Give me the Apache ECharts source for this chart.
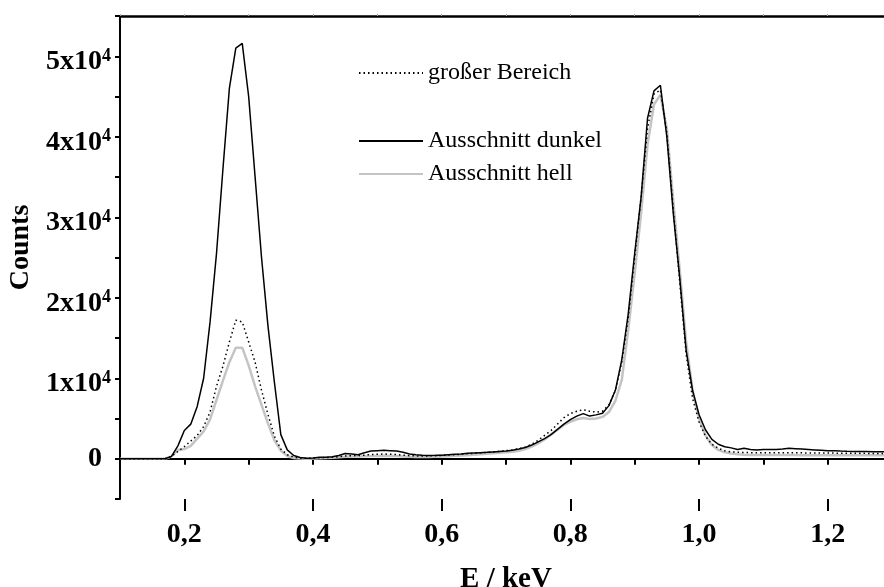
<!DOCTYPE html>
<html>
<head>
<meta charset="utf-8">
<script src="https://cdn.jsdelivr.net/npm/echarts@6/dist/echarts.min.js"></script>
<style>
  html, body { margin: 0; padding: 0; background: #fff; }
  #main { width: 884px; height: 587px; }
</style>
</head>
<body>
<div id="main"></div>
<script>
// Energie in keV
var energie = [
  0.10, 0.11, 0.12, 0.13, 0.14, 0.15, 0.16, 0.17, 0.18, 0.19,
  0.20, 0.21, 0.22, 0.23, 0.24, 0.25, 0.26, 0.27, 0.28, 0.29,
  0.30, 0.31, 0.32, 0.33, 0.34, 0.35, 0.36, 0.37, 0.38, 0.39,
  0.40, 0.41, 0.42, 0.43, 0.44, 0.45, 0.46, 0.47, 0.48, 0.49,
  0.50, 0.51, 0.52, 0.53, 0.54, 0.55, 0.56, 0.57, 0.58, 0.59,
  0.60, 0.61, 0.62, 0.63, 0.64, 0.65, 0.66, 0.67, 0.68, 0.69,
  0.70, 0.71, 0.72, 0.73, 0.74, 0.75, 0.76, 0.77, 0.78, 0.79,
  0.80, 0.81, 0.82, 0.83, 0.84, 0.85, 0.86, 0.87, 0.88, 0.89,
  0.90, 0.91, 0.92, 0.93, 0.94, 0.95, 0.96, 0.97, 0.98, 0.99,
  1.00, 1.01, 1.02, 1.03, 1.04, 1.05, 1.06, 1.07, 1.08, 1.09,
  1.10, 1.11, 1.12, 1.13, 1.14, 1.15, 1.16, 1.17, 1.18, 1.19,
  1.20, 1.21, 1.22, 1.23, 1.24, 1.25, 1.26, 1.27, 1.28, 1.29,
  1.30
];

// großer Bereich (gepunktet)
var grosserBereich = [
  0, 0, 0, 0, 0, 0, 0, 0, 300, 900,
  1500, 2200, 2900, 4000, 5800, 9000, 11500, 14500, 17200, 17000,
  14500, 12000, 8500, 5500, 2800, 1200, 500, 200, 80, 50,
  80, 120, 150, 180, 250, 350, 380, 400, 450, 520,
  560, 580, 560, 520, 450, 380, 350, 340, 350, 380,
  420, 460, 500, 560, 620, 680, 740, 800, 860, 920,
  1000, 1100, 1250, 1450, 1800, 2300, 2900, 3500, 4300, 5100,
  5600, 5900, 6100, 5900, 5800, 5900, 6700, 8500, 12000, 17500,
  25000, 32500, 41000, 45300, 45800, 40500, 31000, 22000, 13000, 7500,
  4600, 2800, 1800, 1300, 1000, 850, 800, 780, 760, 750,
  750, 740, 740, 740, 740, 740, 730, 720, 720, 710,
  700, 700, 690, 680, 680, 670, 670, 660, 660, 650,
  650
];

// Ausschnitt dunkel
var ausschnittDunkel = [
  0, 0, 0, 0, 0, 0, 0, 0, 300, 1600,
  3500, 4300, 6500, 10000, 17000, 25500, 36000, 46000, 51000, 51600,
  45000, 35000, 25000, 16500, 9500, 3000, 1100, 400, 150, 50,
  100, 200, 200, 250, 400, 650, 600, 500, 750, 950,
  1000, 1050, 1000, 950, 800, 600, 500, 420, 400, 420,
  450, 500, 550, 600, 680, 720, 760, 800, 850, 900,
  950, 1050, 1200, 1400, 1700, 2100, 2500, 3000, 3650, 4300,
  4850, 5300, 5600, 5300, 5450, 5650, 6600, 8500, 12300, 18000,
  25500, 32500, 42300, 45700, 46400, 40000, 30500, 22500, 13500, 8500,
  5500, 3600, 2400, 1800, 1500, 1350, 1150, 1300, 1150, 1100,
  1150, 1150, 1150, 1200, 1300, 1250, 1200, 1150, 1100, 1050,
  1000, 1000, 950, 920, 900, 900, 900, 880, 880, 880,
  880
];

// Ausschnitt hell
var ausschnittHell = [
  0, 0, 0, 0, 0, 0, 0, 0, 300, 1100,
  1200, 1600, 2500, 3400, 4900, 7300, 9700, 12000, 13800, 13800,
  11600, 9000, 6700, 4400, 2300, 1000, 350, 100, 20, 0,
  20, 60, 100, 130, 180, 250, 270, 280, 300, 330,
  350, 360, 350, 330, 290, 240, 220, 210, 220, 250,
  280, 320, 360, 400, 450, 500, 560, 620, 680, 740,
  800, 880, 1000, 1200, 1500, 1900, 2400, 3000, 3600, 4200,
  4600, 4900, 5050, 4950, 5000, 5200, 5800, 7200, 9800, 16000,
  23000, 30500, 39000, 44000, 45200, 41000, 32000, 23500, 14500, 8500,
  5000, 2900, 1700, 1100, 800, 650, 550, 500, 480, 470,
  460, 460, 460, 460, 460, 460, 450, 450, 450, 450,
  450, 450, 450, 450, 440, 440, 440, 440, 440, 440,
  440
];

var langeTicks = [0.2, 0.4, 0.6, 0.8, 1.0, 1.2];

function paare(werte) {
  return energie.map(function (e, i) { return [e, werte[i]]; });
}

var chart = echarts.init(document.getElementById('main'));
var serif = '"Liberation Serif", "Times New Roman", serif';

var legendText = { fontFamily: serif, fontSize: 24, color: '#000' };

var option = {
  backgroundColor: '#fff',
  animation: false,
  grid: { left: 120, right: -8, top: 16, bottom: 88, containLabel: false, outerBoundsMode: 'none' },
  legend: [
    {
      left: 353, top: 56, orient: 'vertical',
      itemWidth: 64, itemHeight: 24, itemGap: 10,
      itemStyle: { opacity: 0 },
      data: ['großer Bereich'],
      textStyle: legendText
    },
    {
      left: 353, top: 124, orient: 'vertical',
      itemWidth: 64, itemHeight: 24, itemGap: 9,
      itemStyle: { opacity: 0 },
      data: ['Ausschnitt dunkel', 'Ausschnitt hell'],
      textStyle: legendText
    }
  ],
  xAxis: [
    {
      type: 'value', position: 'bottom',
      min: 0.1, max: 1.3, interval: 0.1,
      name: 'E / keV', nameLocation: 'middle', nameGap: 66,
      nameTextStyle: { fontFamily: serif, fontSize: 29, fontWeight: 'bold', color: '#000' },
      axisLine: { lineStyle: { color: '#000', width: 2 } },
      axisTick: { length: 6, lineStyle: { color: '#000', width: 2 } },
      splitLine: { show: false },
      axisLabel: {
        margin: 22,
        fontFamily: serif, fontSize: 28, fontWeight: 'bold', color: '#000',
        formatter: function (v) {
          var z = Math.round(v * 10);
          if (z % 2 !== 0) return '';
          return (z / 10).toFixed(1).replace('.', ',');
        }
      }
    },
    {
      type: 'value', position: 'bottom',
      min: 0.1, max: 1.3, interval: 0.1,
      axisLine: { show: false },
      axisTick: { length: 12, customValues: langeTicks, lineStyle: { color: '#000', width: 2 } },
      axisLabel: { show: false },
      splitLine: { show: false }
    },
    {
      type: 'value', position: 'top',
      min: 0.1, max: 1.3, interval: 0.1,
      axisLine: { lineStyle: { color: '#000', width: 2.5 } },
      axisTick: { length: 2, lineStyle: { color: '#aaa', width: 1 } },
      axisLabel: { show: false },
      splitLine: { show: false }
    }
  ],
  yAxis: {
    type: 'value',
    min: -5000, max: 55000, interval: 5000,
    name: 'Counts', nameLocation: 'middle', nameGap: 82,
    nameTextStyle: { fontFamily: serif, fontSize: 28, fontWeight: 'bold', color: '#000', padding: [0, 0, 0, 20] },
    axisLine: { show: true, lineStyle: { color: '#000', width: 2 } },
    axisTick: { show: true, length: 5, lineStyle: { color: '#000', width: 2 } },
    splitLine: { show: false },
    axisLabel: {
      margin: 9,
      formatter: function (v) {
        if (v === 0) return '{z|0}{p|4}';
        if (v % 10000 !== 0 || v < 0) return '';
        return '{b|' + (v / 10000) + 'x10}{s|4}';
      },
      rich: {
        b: { fontFamily: serif, fontSize: 28, fontWeight: 'bold', color: '#000', lineHeight: 28, verticalAlign: 'bottom' },
        s: { fontFamily: serif, fontSize: 18, fontWeight: 'bold', color: '#000', lineHeight: 40, verticalAlign: 'middle' },
        z: { fontFamily: serif, fontSize: 28, fontWeight: 'bold', color: '#000', lineHeight: 28 },
        p: { fontFamily: serif, fontSize: 18, fontWeight: 'bold', color: 'rgba(0,0,0,0)', lineHeight: 28 }
      }
    }
  },
  series: [
    {
      name: 'Ausschnitt hell', type: 'line', xAxisIndex: 0,
      data: paare(ausschnittHell), showSymbol: false, symbol: 'none',
      lineStyle: { color: '#c4c4c4', width: 2.5 },
      itemStyle: { color: '#c4c4c4' }
    },
    {
      name: 'großer Bereich', type: 'line', xAxisIndex: 0,
      data: paare(grosserBereich), showSymbol: false, symbol: 'none',
      lineStyle: { color: '#000', width: 1.5, type: [1.5, 3] },
      itemStyle: { color: '#000' }
    },
    {
      name: 'Ausschnitt dunkel', type: 'line', xAxisIndex: 0,
      data: paare(ausschnittDunkel), showSymbol: false, symbol: 'none',
      lineStyle: { color: '#000', width: 1.5 },
      itemStyle: { color: '#000' }
    }
  ]
};

chart.setOption(option);
</script>
</body>
</html>
